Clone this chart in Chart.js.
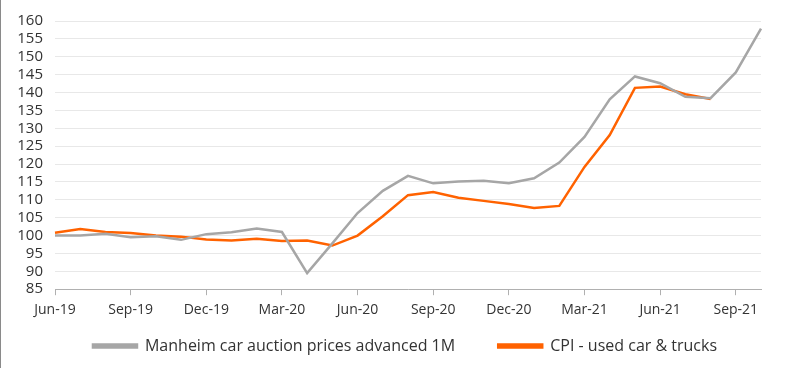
<!DOCTYPE html>
<html>
<head>
<meta charset="utf-8">
<script src="https://cdn.jsdelivr.net/npm/chart.js@4"></script>
<style>
  html, body { margin: 0; padding: 0; background: #fff; }
  .wrap { width: 799px; height: 368px; border-left: 1px solid #8a8a8a; }
</style>
</head>
<body>
<div class="wrap"><canvas id="chart" width="799" height="368"></canvas></div>
<script>
// Monthly categories, Jun-19 .. Oct-21
const months = ['Jun-19', 'Jul-19', 'Aug-19', 'Sep-19', 'Oct-19', 'Nov-19', 'Dec-19', 'Jan-20', 'Feb-20', 'Mar-20',
    'Apr-20', 'May-20', 'Jun-20', 'Jul-20', 'Aug-20', 'Sep-20', 'Oct-20', 'Nov-20', 'Dec-20', 'Jan-21',
    'Feb-21', 'Mar-21', 'Apr-21', 'May-21', 'Jun-21', 'Jul-21', 'Aug-21', 'Sep-21', 'Oct-21'];

const manheim = [100, 100, 100.5, 99.5, 99.8, 98.8, 100.4, 100.9, 102, 101,
    89.5, 97.8, 106.3, 112.5, 116.7, 114.6, 115.1, 115.3, 114.6, 116,
    120.4, 127.6, 138.1, 144.5, 142.6, 138.8, 138.4, 145.6, 157.9];

const cpiUsedCars = [100.8, 101.8, 101, 100.7, 100, 99.7, 98.9, 98.6, 99.1, 98.5,
    98.6, 97.2, 100, 105.4, 111.3, 112.2, 110.6, 109.7, 108.8, 107.7,
    108.3, 119.2, 128.1, 141.3, 141.7, 139.5, 138.2, null, null];

const yTicks = [85, 90, 95, 100, 105, 110, 115, 120, 125, 130, 135, 140, 145, 150, 155, 160];

const fontFamily = '"Open Sans", sans-serif';

const ctx = document.getElementById('chart').getContext('2d');
new Chart(ctx, {
    type: 'line',
    data: {
        labels: months,
        datasets: [{
            label: 'Manheim car auction prices advanced 1M',
            data: manheim,
            borderColor: '#a6a6a6',
            backgroundColor: '#a6a6a6',
            borderWidth: 2.5,
            pointRadius: 0,
            tension: 0
        }, {
            label: 'CPI - used car & trucks',
            data: cpiUsedCars,
            borderColor: '#ff6200',
            backgroundColor: '#ff6200',
            borderWidth: 2.5,
            pointRadius: 0,
            tension: 0
        }]
    },
    options: {
        responsive: false,
        animation: false,
        layout: {
            padding: { top: 8, right: 0, left: 9, bottom: 4 }
        },
        plugins: {
            legend: {
                position: 'bottom',
                labels: {
                    boxWidth: 44,
                    boxHeight: 3,
                    padding: 14,
                    color: '#333',
                    font: { family: fontFamily, size: 16 },
                    generateLabels: function(chart) {
                        const items = Chart.defaults.plugins.legend.labels.generateLabels(chart);
                        // wider gap between the two entries than the legend padding gives
                        items[0].text += '\u00a0\u00a0\u00a0\u00a0\u00a0\u00a0\u00a0';
                        return items;
                    }
                }
            },
            tooltip: { enabled: false }
        },
        scales: {
            x: {
                offset: false,
                grid: {
                    drawOnChartArea: false,
                    drawTicks: true,
                    tickLength: 6,
                    color: '#b0b0b0'
                },
                border: { color: '#b0b0b0', width: 1 },
                ticks: {
                    autoSkip: false,
                    maxRotation: 0,
                    padding: 6,
                    color: '#333',
                    font: { family: fontFamily, size: 14 },
                    callback: function(value, index) {
                        return index % 3 === 0 ? months[index] : null;
                    }
                }
            },
            y: {
                min: 85,
                max: 160,
                afterBuildTicks: function(axis) {
                    axis.ticks = yTicks.map(v => ({ value: v }));
                },
                afterFit: function(axis) {
                    axis.width = 45;
                },
                grid: {
                    color: '#e8e8e8',
                    drawTicks: false
                },
                border: { display: false },
                ticks: {
                    autoSkip: false,
                    padding: 12,
                    color: '#333',
                    font: { family: fontFamily, size: 15 }
                }
            },
            // empty right-hand spacer so the plot ends where the reference does
            spacer: {
                type: 'linear',
                position: 'right',
                display: true,
                afterFit: function(axis) {
                    axis.width = 39;
                },
                grid: { display: false },
                border: { display: false },
                ticks: { display: false }
            }
        }
    }
});
</script>
</body>
</html>
